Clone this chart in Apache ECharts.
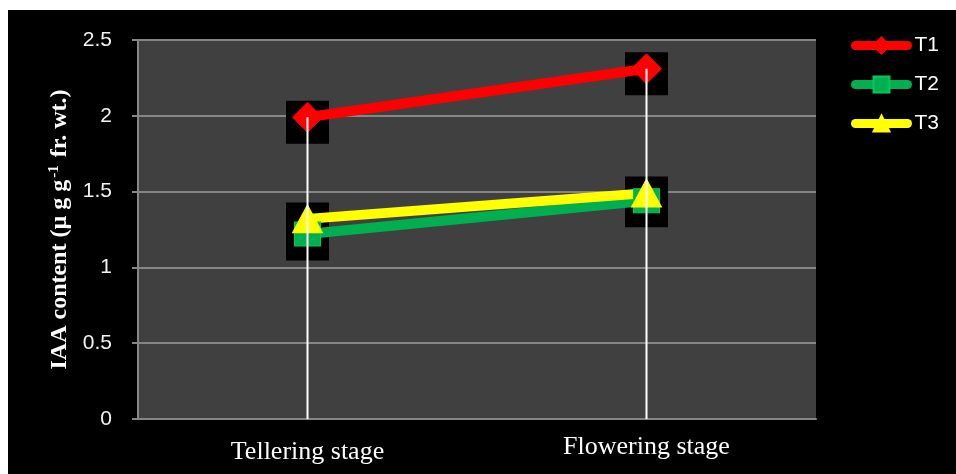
<!DOCTYPE html>
<html>
<head>
<meta charset="utf-8">
<script src="https://cdn.jsdelivr.net/npm/echarts@6/dist/echarts.min.js"></script>
<style>
html,body{margin:0;padding:0;background:#fff;}
#bg{position:absolute;left:8px;top:10px;right:0;bottom:0;background:#000;}
#chart{position:absolute;left:0;top:0;width:956px;height:474px;}
</style>
</head>
<body>
<div id="bg"></div>
<div id="chart"></div>
<script>
const categories = ['Tellering stage', 'Flowering stage'];
const seriesNames = ['T1', 'T2', 'T3'];
const t1 = [1.99, 2.31];
const t2 = [1.22, 1.44];
const t3 = [1.32, 1.49];
const yTicks = [0, 0.5, 1, 1.5, 2, 2.5];

const dropValues = categories.map((c, i) => Math.max(t1[i], t2[i], t3[i]));

const chart = echarts.init(document.getElementById('chart'), null, {renderer: 'canvas'});

const colors = ['#FF0000', '#00B050', '#FFFF00'];
const symbols = ['diamond', 'rect', 'triangle'];
const symbolSizes = [[30, 30], [26, 24], [30, 28]];
const datasets = [t1, t2, t3];

const lineSeries = datasets.map((d, k) => ({
  name: seriesNames[k],
  type: 'line',
  data: d,
  z: 3,
  symbol: symbols[k],
  symbolSize: symbolSizes[k],
  showAllSymbol: true,
  lineStyle: {color: colors[k], width: 10, cap: 'butt'},
  itemStyle: {color: colors[k], borderColor: echarts.color.lift(colors[k], -0.15), borderWidth: 1, opacity: 1},
  emphasis: {disabled: true},
  animation: false
}));

const shadowSeries = datasets.map((d, k) => ({
  name: 'shadow' + k,
  type: 'scatter',
  data: d,
  z: 1,
  symbol: 'rect',
  symbolSize: 43,
  symbolOffset: [0, 5],
  itemStyle: {color: '#000', opacity: 1},
  silent: true,
  animation: false
}));

const option = {
  backgroundColor: 'transparent',
  animation: false,
  grid: {
    left: 138, right: 140, top: 40, bottom: 55,
    show: true, backgroundColor: '#404040', borderWidth: 0
  },
  legend: {
    data: seriesNames,
    orient: 'vertical',
    left: 851,
    top: 35,
    padding: 0,
    itemWidth: 52,
    itemHeight: 20,
    itemGap: 18,
    lineStyle: {width: 9, cap: 'round'},
    textStyle: {color: '#fff', fontSize: 21, fontFamily: 'Liberation Sans', padding: [0, 0, 0, 2]}
  },
  xAxis: {
    type: 'category',
    data: [
      {value: categories[0], textStyle: {padding: [5, 0, 0, 0]}},
      {value: categories[1], textStyle: {padding: [0, 0, 0, 0]}}
    ],
    boundaryGap: true,
    axisLine: {lineStyle: {color: '#868686', width: 2}},
    axisTick: {show: false},
    axisLabel: {color: '#fff', fontSize: 26, fontFamily: 'Liberation Serif', margin: 15},
    splitLine: {show: false}
  },
  yAxis: {
    type: 'value',
    min: yTicks[0],
    max: yTicks[yTicks.length - 1],
    interval: 0.5,
    name: '{n|IAA content (µ g g}{sup|-1}{n| fr. wt.)}',
    nameLocation: 'middle',
    nameGap: 66,
    nameRotate: 90,
    nameTextStyle: {
      color: '#fff', fontSize: 24, fontWeight: 'bold', fontFamily: 'Liberation Serif',
      rich: {
        n: {color: '#fff', fontSize: 24, fontWeight: 'bold', fontFamily: 'Liberation Serif'},
        sup: {color: '#fff', fontSize: 15, fontWeight: 'bold', fontFamily: 'Liberation Serif', verticalAlign: 'top', padding: [0, 2, 10, 2]}
      }
    },
    axisLine: {show: true, lineStyle: {color: '#868686', width: 2}},
    axisTick: {show: true, length: 6, lineStyle: {color: '#868686', width: 2}},
    axisLabel: {color: '#f2f2f2', fontSize: 21, fontFamily: 'Liberation Sans', margin: 26},
    splitLine: {lineStyle: {color: '#868686', width: 2}}
  },
  series: [
    ...shadowSeries,
    ...lineSeries,
    {
      name: 'drop',
      type: 'bar',
      data: dropValues,
      barWidth: 2,
      z: 5,
      itemStyle: {color: '#ffffff'},
      silent: true,
      animation: false
    }
  ]
};
chart.setOption(option);
</script>
</body>
</html>
